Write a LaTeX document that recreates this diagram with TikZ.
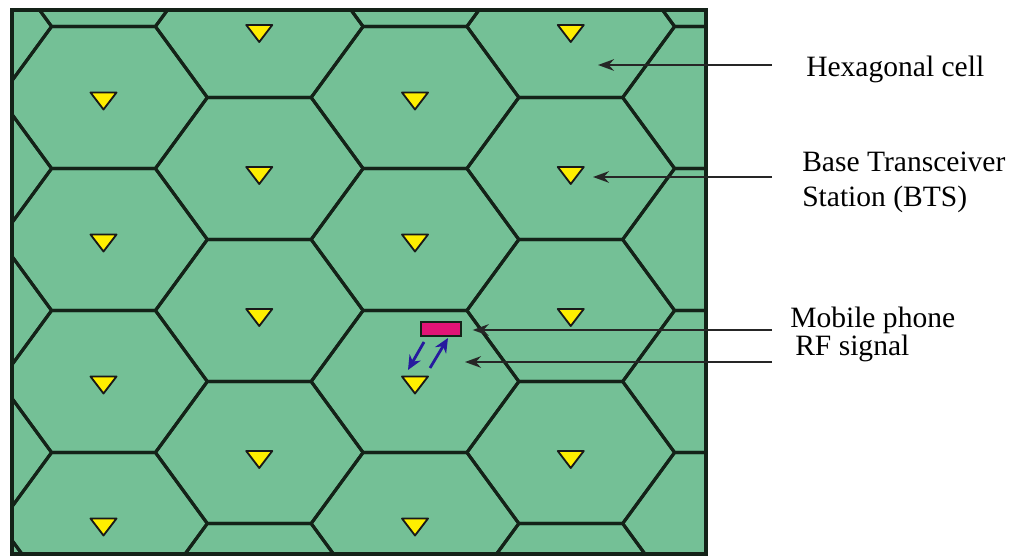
\documentclass[tikz,border=0pt]{standalone}
\usepackage{fontspec}
\setmainfont{Liberation Serif}
\usetikzlibrary{arrows.meta,positioning,calc}
\definecolor{cellgreen}{RGB}{116,192,150}
\definecolor{edge}{RGB}{20,34,24}
\definecolor{btsyellow}{RGB}{255,238,0}
\definecolor{phonepink}{RGB}{226,20,118}
\definecolor{rfblue}{RGB}{38,26,158}
\tikzset{
  >={Stealth[length=4mm,width=2.9mm]},
  cellline/.style={draw=edge,line width=2.2pt,line join=round},
  frameline/.style={draw=edge,line width=2.4pt},
  bts/.style={fill=btsyellow,draw=black!90,line width=1.3pt,line join=round},
  phone/.style={draw=edge,fill=phonepink,line width=1pt,inner sep=0pt,
    minimum width=1cm,minimum height=3.5mm},
  pointer/.style={->,line width=1.4pt,draw=black!85},
  rf/.style={->,line width=2pt,draw=rfblue,>={Stealth[length=3.6mm,width=3.2mm]}},
  lbl/.style={inner sep=0pt,anchor=base west,font=\fontsize{21}{25}\selectfont,align=left},
}
\begin{document}
\begin{tikzpicture}[x=0.025cm,y=-0.025cm]
  \useasboundingbox (0,0) rectangle (1016,556);
  % cells
  \fill[cellgreen] (12,10) rectangle (706,554);
  \begin{scope}
    \clip (12,10) rectangle (706,554);
    \foreach \c in {-1,...,4}
      \foreach \r in {-1,...,4}{
        \pgfmathsetmacro\cx{103.5+155.75*\c}
        \pgfmathsetmacro\cy{97.5+142*\r-71*mod(\c+2,2)}
        \draw[cellline,shift={(\cx,\cy)}] (-103.8,0) -- (-51.9,-71) -- (51.9,-71)
          -- (103.8,0) -- (51.9,71) -- (-51.9,71) -- cycle;
      }
  \end{scope}
  \draw[frameline] (12,10) rectangle (706,554);
  % base stations
  \foreach \c in {0,...,3}
    \foreach \r in {0,...,3}{
      \pgfmathsetmacro\cx{103.5+155.75*\c}
      \pgfmathsetmacro\ty{97.5+142*\r-71*mod(\c,2)-5+3.5*mod(\c,2)}
      \coordinate (b-\c-\r) at (\cx,\ty);
      \draw[bts] ($(b-\c-\r)+(-13,0)$) -- ($(b-\c-\r)+(13,0)$) -- ($(b-\c-\r)+(0,17)$) -- cycle;
    }
  % mobile phone and radio link
  \node[phone] (phone) at (441,329) {};
  \coordinate (rfa) at (424,342);
  \coordinate (rfb) at (408,370);
  \coordinate (rfc) at (430,368);
  \coordinate (rfd) at (448,338);
  \draw[rf] (rfa) -- (rfb);
  \draw[rf] (rfc) -- (rfd);
  % labels
  \node[lbl] (cell) at (806,77) {Hexagonal cell};
  \node[lbl] (station) at (802,207) {Base Transceiver\\Station (BTS)};
  \node[lbl] (mobile) at (790,327) {Mobile phone};
  \node[lbl] (signal) at (795,355) {RF signal};
  \coordinate (cellfrom) at (772,65);
  \coordinate (cellto) at (598,65);
  \coordinate (btsfrom) at (772,177);
  \coordinate (btsto) at (593,177);
  \coordinate (phonefrom) at (772,330);
  \coordinate (rffrom) at (772,362);
  \coordinate (rfto) at (465,362);
  \draw[pointer] (cellfrom) -- (cellto);
  \draw[pointer] (btsfrom) -- (btsto);
  \draw[pointer,shorten >=2.75mm] (phonefrom) -- (phonefrom -| phone.east);
  \draw[pointer] (rffrom) -- (rfto);
\end{tikzpicture}
\end{document}
